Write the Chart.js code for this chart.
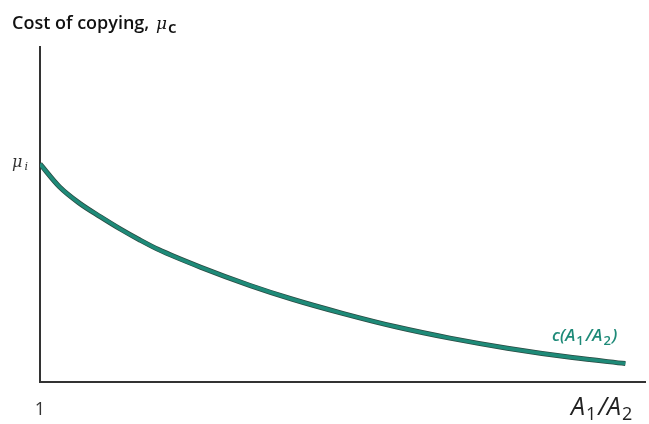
<!DOCTYPE html>
<html>
<head>
<meta charset="utf-8">
<script src="https://cdn.jsdelivr.net/npm/chart.js@4"></script>
<style>
  html, body { margin: 0; padding: 0; background: #fff; }
  #wrap { width: 649px; height: 424px; }
</style>
</head>
<body>
<div id="wrap"><canvas id="myChart" width="649" height="424"></canvas></div>
<script>
// ratio A1/A2 (horizontal) and cost of copying (vertical)
const ratio = [1.00, 1.13, 1.26, 1.40, 1.53, 1.66, 1.78, 2.06, 2.39, 2.67, 3.00, 3.36, 3.71, 4.09, 4.52, 4.87];
const cost  = [65.1, 58.2, 53.4, 49.3, 45.7, 42.4, 39.6, 34.3, 28.8, 24.7, 20.5, 16.4, 13.1, 10.1, 7.3, 5.5];
const xTicks = [1];
const xTickLabels = ['1'];

const teal = '#1e8a78';

// draw a run of text pieces (for subscripts)
function drawParts(ctx, parts, x, y, color) {
  ctx.fillStyle = color;
  ctx.textBaseline = 'alphabetic';
  ctx.textAlign = 'left';
  parts.forEach(p => {
    ctx.font = p.font;
    ctx.fillText(p.t, x, y + (p.dy || 0));
    x += ctx.measureText(p.t).width + (p.gap || 0);
  });
}

const labelsPlugin = {
  id: 'labels',
  afterDraw(chart) {
    const ctx = chart.ctx;
    const y = chart.scales.y;
    ctx.save();
    // title
    drawParts(ctx, [
      {t: 'Cost of copying, ', font: '600 18px "Open Sans"', gap: 2},
      {t: 'μ', font: 'italic 17px "DejaVu Serif"', gap: 1},
      {t: 'c', font: '600 17px "Open Sans"', dy: 4}
    ], 12, 29, '#111');
    // mu_i tick
    const py = y.getPixelForValue(cost[0]);
    drawParts(ctx, [
      {t: 'μ', font: 'italic 16px "DejaVu Serif"', gap: 2},
      {t: 'i', font: 'italic 11px "DejaVu Serif"', dy: 3}
    ], 12, py + 3, '#333');
    // x axis title
    drawParts(ctx, [
      {t: 'A', font: 'italic 25px "Open Sans"', gap: 1},
      {t: '1', font: '18px "Open Sans"', dy: 5, gap: 2},
      {t: '/A', font: 'italic 25px "Open Sans"', gap: 1},
      {t: '2', font: '18px "Open Sans"', dy: 5}
    ], 571, 415, '#222');
    // curve label
    drawParts(ctx, [
      {t: 'c(A', font: 'italic 600 17px "Open Sans"', gap: 1},
      {t: '1', font: '600 13px "Open Sans"', dy: 4, gap: 2},
      {t: '/A', font: 'italic 600 17px "Open Sans"', gap: 1},
      {t: '2', font: '600 13px "Open Sans"', dy: 4, gap: 1},
      {t: ')', font: 'italic 600 17px "Open Sans"'}
    ], 552, 341, teal);
    ctx.restore();
  }
};

const points = ratio.map((r, i) => ({x: r, y: cost[i]}));

new Chart(document.getElementById('myChart').getContext('2d'), {
  type: 'line',
  data: {
    datasets: [{
      data: points,
      borderColor: teal,
      borderWidth: 3.5,
      pointRadius: 0,
      cubicInterpolationMode: 'monotone',
      fill: false
    }, {
      data: points,
      borderColor: '#2b4a42',
      borderWidth: 5,
      pointRadius: 0,
      cubicInterpolationMode: 'monotone',
      fill: false
    }]
  },
  options: {
    responsive: false,
    animation: false,
    layout: { padding: { top: 47, right: 4, left: 0, bottom: 0 } },
    plugins: { legend: { display: false }, tooltip: { enabled: false } },
    scales: {
      x: {
        type: 'linear',
        min: 1, max: 5,
        grid: { display: false },
        border: { color: '#333', width: 2 },
        afterBuildTicks: axis => { axis.ticks = xTicks.map(v => ({value: v})); },
        ticks: {
          callback: (v, i) => xTickLabels[i],
          color: '#333',
          font: { family: 'Open Sans', size: 18 },
          padding: 9,
          maxRotation: 0
        },
        afterFit: axis => { axis.height = 42; }
      },
      y: {
        min: 0, max: 100,
        grid: { display: false },
        border: { color: '#333', width: 2 },
        ticks: { display: false },
        afterFit: axis => { axis.width = 40; }
      }
    }
  },
  plugins: [labelsPlugin]
});
</script>
</body>
</html>
